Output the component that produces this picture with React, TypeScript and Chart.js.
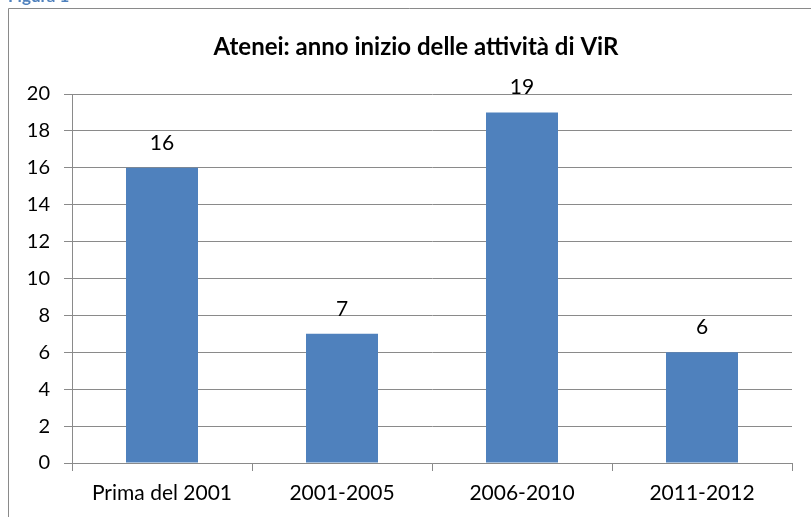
import React, { useEffect, useRef } from "react";
import { Chart, registerables } from "chart.js";

Chart.register(...registerables);

const categories = ["Prima del 2001", "2001-2005", "2006-2010", "2011-2012"];
const values = [16, 7, 19, 6];
const titleText = "Atenei: anno inizio delle attività di ViR";
const captionText = "Figura 1";
const yMin = 0;
const yMax = 20;
const yStep = 2;

const FONT = "Lato, 'Liberation Sans', sans-serif";
const BAR = "#4F81BD";
const GRID = "#8A8A8A";

const decorPlugin = {
  id: "decor",
  beforeDraw(chart: any) {
    const ctx = chart.ctx;
    ctx.save();
    ctx.strokeStyle = GRID;
    ctx.lineWidth = 1;
    ctx.beginPath();
    ctx.moveTo(8.5, chart.height);
    ctx.lineTo(8.5, 8.5);
    ctx.lineTo(chart.width, 8.5);
    ctx.stroke();
    ctx.fillStyle = BAR;
    ctx.font = `bold 17px ${FONT}`;
    ctx.textAlign = "left";
    ctx.textBaseline = "alphabetic";
    ctx.fillText(captionText, 8, 2);
    ctx.fillStyle = "#000";
    ctx.font = `bold 24px ${FONT}`;
    ctx.textAlign = "center";
    ctx.fillText(titleText, 416, 55);
    ctx.restore();
  },
  afterDatasetsDraw(chart: any) {
    const ctx = chart.ctx;
    const meta = chart.getDatasetMeta(0);
    ctx.save();
    ctx.fillStyle = "#000";
    ctx.font = `21px ${FONT}`;
    ctx.textAlign = "center";
    ctx.textBaseline = "alphabetic";
    meta.data.forEach((el: any, i: number) => {
      ctx.fillText(String(values[i]), el.x, el.y - 18);
    });
    ctx.restore();
  },
};

export default function App() {
  const ref = useRef<HTMLCanvasElement>(null);
  useEffect(() => {
    if (!ref.current) return;
    const chart = new Chart(ref.current, {
      type: "bar",
      data: {
        labels: categories,
        datasets: [
          {
            data: values,
            backgroundColor: BAR,
            barPercentage: 0.4,
            categoryPercentage: 1,
          },
        ],
      },
      options: {
        responsive: false,
        animation: false,
        layout: { padding: { left: 0, right: 19, top: 94, bottom: 0 } },
        plugins: { legend: { display: false }, title: { display: false }, tooltip: { enabled: false } },
        scales: {
          x: {
            offset: true,
            grid: { display: true, drawOnChartArea: false, drawTicks: true, tickLength: 8, color: GRID, offset: true },
            border: { display: true, color: GRID },
            ticks: { color: "#000", font: { family: FONT, size: 21 }, padding: 10, maxRotation: 0 },
            afterFit(scale: any) {
              scale.height = 54;
            },
          },
          y: {
            min: yMin,
            max: yMax,
            grid: { color: GRID, tickLength: 8 },
            border: { display: true, color: GRID },
            ticks: { stepSize: yStep, color: "#000", font: { family: FONT, size: 20 }, padding: 14 },
            afterFit(scale: any) {
              scale.width = 72;
            },
          },
        },
      },
      plugins: [decorPlugin],
    });
    return () => chart.destroy();
  }, []);
  return (
    <div style={{ position: "absolute", left: 0, top: 0, width: 811, height: 517, background: "#fff" }}>
      <canvas ref={ref} width={811} height={517} style={{ display: "block" }} />
    </div>
  );
}
